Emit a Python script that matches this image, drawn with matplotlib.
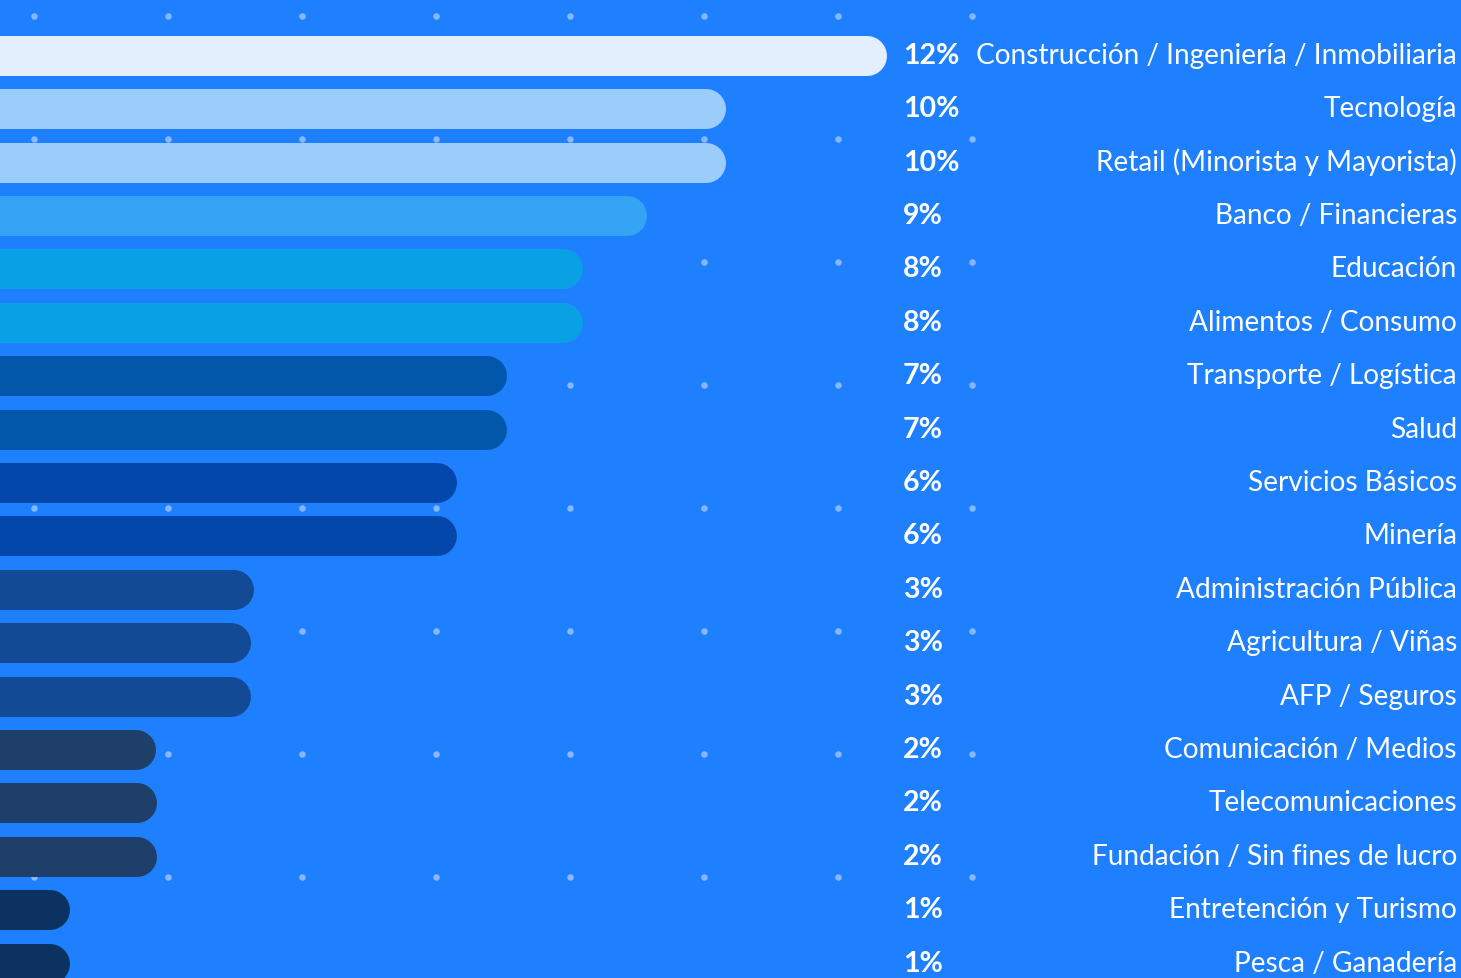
import numpy as np
import matplotlib
matplotlib.use("Agg")
import matplotlib.pyplot as plt
import matplotlib.transforms as mtransforms

# === Data ===
categories = [
    "Construcción / Ingeniería / Inmobiliaria", "Tecnología",
    "Retail (Minorista y Mayorista)", "Banco / Financieras", "Educación",
    "Alimentos / Consumo", "Transporte / Logística", "Salud",
    "Servicios Básicos", "Minería", "Administración Pública",
    "Agricultura / Viñas", "AFP / Seguros", "Comunicación / Medios",
    "Telecomunicaciones", "Fundación / Sin fines de lucro",
    "Entretención y Turismo", "Pesca / Ganadería",
]
values = [12.0, 9.82, 9.82, 8.75, 7.89, 7.89, 6.86, 6.86, 6.18, 6.18,
          3.43, 3.40, 3.40, 2.11, 2.12, 2.12, 0.95, 0.95]
pct_labels = ["12%", "10%", "10%", "9%", "8%", "8%", "7%", "7%", "6%", "6%",
              "3%", "3%", "3%", "2%", "2%", "2%", "1%", "1%"]
bar_colors = ["#E3EFFD", "#9BCDFB", "#9BCDFB", "#36A4F5", "#0AA0E5", "#0AA0E5",
              "#0357AB", "#0357AB", "#0447AB", "#0447AB", "#134A96", "#134A96",
              "#134A96", "#1F3F6B", "#1F3F6B", "#1F3F6B", "#0C3262", "#0C3262"]

BG = "#1E80FF"
W, H, DPI = 1461, 979, 100

fig = plt.figure(figsize=(W / DPI, H / DPI), dpi=DPI, facecolor=BG)
ax = fig.add_axes([0, 0, 1, 1])
ax.set_facecolor(BG)

px_per_pct = 887 / 12.0          # horizontal scale
row_px = 53.4                    # row spacing
first_row_px = 56.8
ax.set_xlim(0, W / px_per_pct)
ax.set_ylim((H - first_row_px) / row_px, -first_row_px / row_px)
ax.axis("off")

# background dot grid (decoration)
dot_x = np.arange(34, 1000, 134)
dot_y = np.arange(17, 980, 123)
gx, gy = np.meshgrid(dot_x, dot_y)
ax.scatter(gx.ravel(), H - gy.ravel(), s=22, color="#86B7FF", lw=0,
           transform=None, zorder=1)

# rounded bars: thick lines with round caps
bar_h_px = 40
lw_pt = bar_h_px * 72 / DPI
cap = (bar_h_px / 2) / px_per_pct
for i, (v, c) in enumerate(zip(values, bar_colors)):
    ax.plot([-5, v - cap], [i, i], color=c, lw=lw_pt,
            solid_capstyle="round", zorder=2)

trans = mtransforms.blended_transform_factory(ax.transAxes, ax.transData)
for i, (lab, cat) in enumerate(zip(pct_labels, categories)):
    ax.text(903 / W, i - 0.02, lab, transform=trans, ha="left", va="center",
            color="white", fontsize=20.5, fontweight="bold", family="Lato")
    ax.text(1457 / W, i - 0.02, cat, transform=trans, ha="right", va="center",
            color="white", fontsize=20.2, family="Lato")

fig.savefig("out.png", dpi=DPI, facecolor=BG)
